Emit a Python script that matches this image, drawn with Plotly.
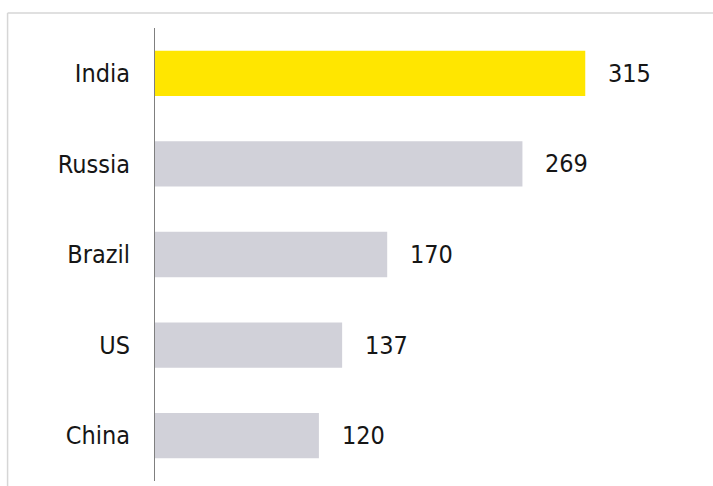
import plotly.graph_objects as go

# Country values, listed top to bottom
countries = ["India", "Russia", "Brazil", "US", "China"]
values = [315, 269, 170, 137, 120]
highlight = "India"

YELLOW = "#ffe600"
GREY = "#d1d1d9"
TEXT = "#161616"
FONT = "DejaVu Sans Condensed"

colors = [YELLOW if c == highlight else GREY for c in countries]

fig = go.Figure(
    go.Bar(
        x=values,
        y=countries,
        orientation="h",
        marker=dict(color=colors, line=dict(width=0)),
        width=0.5,
        hoverinfo="skip",
    )
)

# value labels to the right of each bar
for c, v in zip(countries, values):
    fig.add_annotation(
        x=v, y=c, text=str(v), showarrow=False,
        xanchor="left", yanchor="middle", xshift=21,
        font=dict(family=FONT, size=25, color=TEXT),
    )

# thin light frame along the top and left edges
fig.add_shape(type="line", xref="paper", yref="paper",
              x0=-0.2705, x1=1.03, y0=1.033, y1=1.033,
              line=dict(color="#d6d6d6", width=1.5))
fig.add_shape(type="line", xref="paper", yref="paper",
              x0=-0.2705, x1=-0.2705, y0=-0.02, y1=1.033,
              line=dict(color="#d6d6d6", width=1.5))

fig.update_layout(
    width=713, height=486,
    margin=dict(l=155, r=13, t=28, b=5),
    paper_bgcolor="white", plot_bgcolor="white",
    showlegend=False,
    bargap=0.5,
    xaxis=dict(range=[0, 399], visible=False, fixedrange=True),
    yaxis=dict(
        categoryorder="array", categoryarray=countries[::-1],
        showline=True, linecolor="#7f7f7f", linewidth=1,
        showgrid=False, zeroline=False, ticks="",
        ticklabelstandoff=19,
        tickfont=dict(family=FONT, size=25, color=TEXT),
        fixedrange=True,
    ),
)

fig.write_html("out.html")
